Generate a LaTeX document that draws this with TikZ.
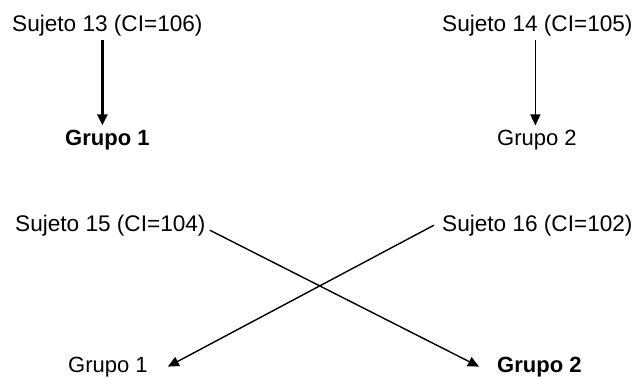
\documentclass[tikz,border=0pt]{standalone}
\usepackage{fontspec}
\setmainfont{Liberation Sans}
\usetikzlibrary{arrows.meta}
\begin{document}
\begin{tikzpicture}[x=1pt,y=-1pt,
  lbl/.style={anchor=base west,inner sep=4pt,font=\fontsize{22.6}{27}\selectfont},
  glbl/.style={anchor=base west,inner sep=4pt,font=\fontsize{22}{26}\selectfont},
  bglbl/.style={anchor=base west,inner sep=4pt,font=\fontsize{22}{26}\selectfont\bfseries},
  arr/.style={line width=1.4pt,-{Triangle[length=11pt,width=10pt]}},
  thickarr/.style={arr,line width=2.4pt}]
\useasboundingbox[fill=white] (0,0) rectangle (637,378);
\node[lbl]   (s13) at (8,31)   {Sujeto 13 (CI=106)};
\node[lbl]   (s14) at (438,31) {Sujeto 14 (CI=105)};
\node[bglbl] (g1t) at (61,145) {Grupo 1};
\node[glbl]  (g2t) at (493,145) {Grupo 2};
\node[lbl]   (s15) at (11,231) {Sujeto 15 (CI=104)};
\node[lbl]   (s16) at (438,231) {Sujeto 16 (CI=102)};
\node[glbl]  (g1b) at (64,372) {Grupo 1};
\node[bglbl] (g2b) at (493,372) {Grupo 2};
\draw[thickarr] ([xshift=-5pt]s13.south) -- ([xshift=-5pt]s13.south |- g1t.north);
\draw[arr] ([xshift=-2pt]s14.south) -- ([xshift=-2pt]s14.south |- g2t.north);
\draw[arr] ([yshift=-5pt]s15.east) -- ([xshift=-14pt]g2b.west);
\draw[arr] ([xshift=-4pt]s16.west) -- ([xshift=16pt]g1b.east);
\end{tikzpicture}
\end{document}
